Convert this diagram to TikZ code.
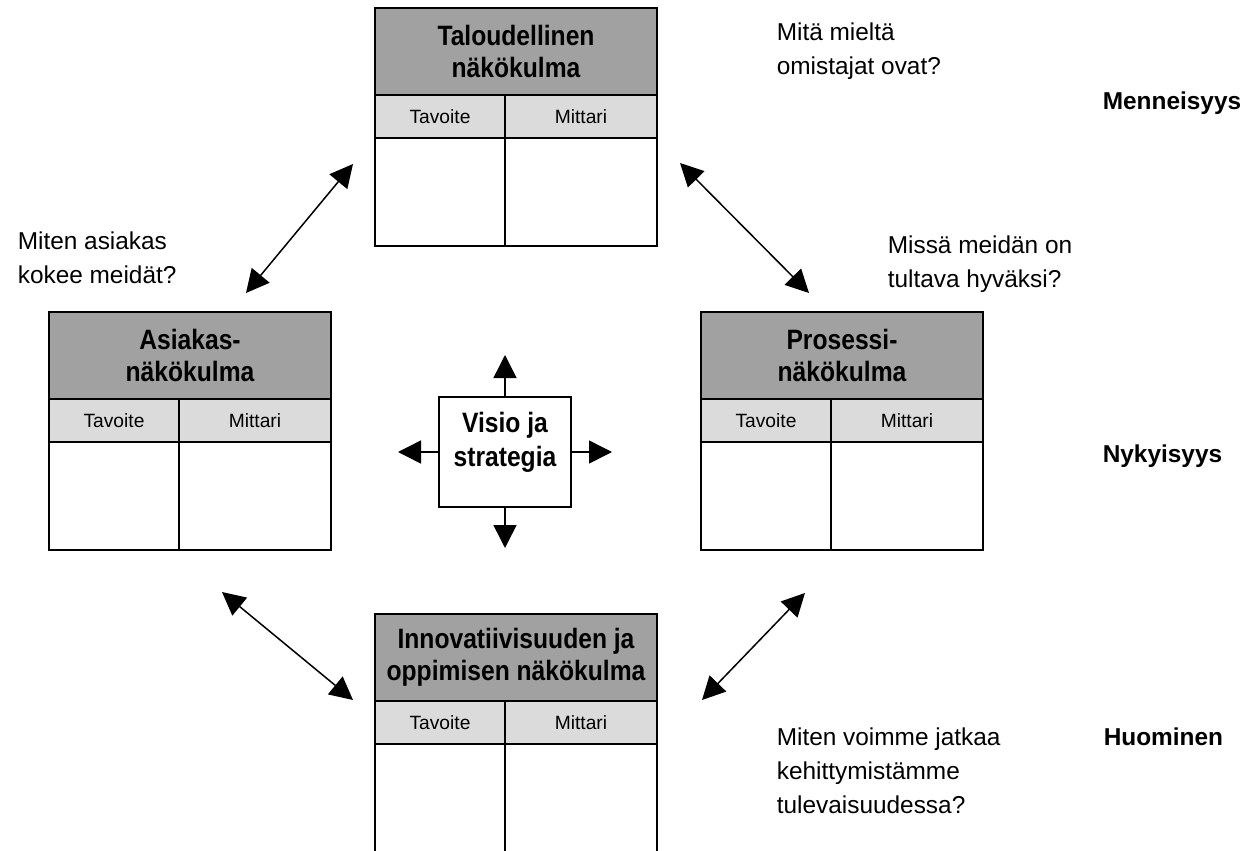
\documentclass[tikz,border=0pt]{standalone}
\usepackage{fontspec}
\setmainfont{Liberation Sans}
\newfontfamily\kapeafont[FakeStretch=0.88]{Liberation Sans}
\usepackage{tikz}
\usetikzlibrary{arrows.meta}
\definecolor{tumma}{gray}{0.63}
\definecolor{vaalea}{gray}{0.86}
\newcommand{\tw}{130}
\newcommand{\mw}{152}
\newcommand{\nakokulma}[4]{  % 1 name, 2-3 x-y top left, 4 title
        \node[otsikko, anchor=north west] (#1) at (#2, #3) {#4};
        \node[solu, fill=vaalea, minimum width=\tw, minimum height=43, anchor=north west] (#1-tav) at (#1.south west) {Tavoite};
        \node[solu, fill=vaalea, minimum width=\mw, minimum height=43, anchor=north west] (#1-mit) at (#1-tav.north east) {Mittari};
        \node[solu, minimum width=\tw, minimum height=108, anchor=north west] (#1-tav-alue) at (#1-tav.south west) {};%empty cells
        \node[solu, minimum width=\mw, minimum height=108, anchor=north west] (#1-mit-alue) at (#1-mit.south west) {};
}
\begin{document}
\begin{tikzpicture}[x=1pt, y=-1pt, line width=1.6pt,
        otsikko/.style={draw, fill=tumma, minimum width=282, minimum height=87, inner sep=0, outer sep=0, align=center, font=\kapeafont\bfseries\fontsize{28}{32}\selectfont},
        solu/.style={draw, inner sep=0, outer sep=0, font=\fontsize{19.2}{22}\selectfont},
        kysymys/.style={anchor=north west, inner sep=0, align=left, font=\fontsize{24.4}{34}\selectfont},
        aika/.style={anchor=base west, inner sep=0, font=\bfseries\fontsize{24.4}{30}\selectfont},
        nuoli/.style={line width=1.5pt, -{Triangle[length=23pt, width=23pt]}},
        tuplanuoli/.style={line width=1.5pt, {Triangle[length=23pt, width=23pt]}-{Triangle[length=23pt, width=23pt]}}]
		\useasboundingbox (0,0) rectangle (1248,851);
		\clip (0,0) rectangle (1248,851);
		\nakokulma{talous}{375}{8}{Taloudellinen\\näkökulma}
		\nakokulma{asiakas}{49}{312}{Asiakas-\\näkökulma}
		\nakokulma{prosessi}{701}{312}{Prosessi-\\näkökulma}
		\nakokulma{oppiminen}{375}{614}{Innovatiivisuuden ja\\oppimisen näkökulma}
		% keskusta
		\node[draw, minimum width=132, minimum height=110, inner sep=0, outer sep=0] (visio) at (505,452) {};
		\node[align=center, inner sep=0, font=\kapeafont\bfseries\fontsize{28}{34}\selectfont] (visio-teksti) at (505,442) {Visio ja\\strategia};
		\coordinate (ylos) at (505,355);
		\coordinate (alas) at (505,548);
		\coordinate (vasen) at (398,452);
		\coordinate (oikea) at (612,452);
		\draw[nuoli] (visio.north) -- (ylos);
		\draw[nuoli] (visio.south) -- (alas);
		\draw[nuoli] (visio.west) -- (vasen);
		\draw[nuoli] (visio.east) -- (oikea);
		% yhteydet
		\coordinate (a1) at (246,293);
		\coordinate (a2) at (353,164);
		\coordinate (b1) at (680,163);
		\coordinate (b2) at (809,293);
		\coordinate (c1) at (222,592);
		\coordinate (c2) at (353,700);
		\coordinate (d1) at (702,700);
		\coordinate (d2) at (805,593);
		\draw[tuplanuoli] (a1) -- (a2);
		\draw[tuplanuoli] (b1) -- (b2);
		\draw[tuplanuoli] (c1) -- (c2);
		\draw[tuplanuoli] (d1) -- (d2);
		% kysymykset
		\node[kysymys] (k-talous) at (776,22) {Mitä mieltä\\omistajat ovat?};
		\node[kysymys] (k-asiakas) at (17,231) {Miten asiakas\\kokee meidät?};
		\node[kysymys] (k-prosessi) at (887,235) {Missä meidän on\\tultava hyväksi?};
		\node[kysymys] (k-oppiminen) at (776,727) {Miten voimme jatkaa\\kehittymistämme\\tulevaisuudessa?};
		\node[aika] (menneisyys) at (1102,110) {Menneisyys};
		\node[aika] (nykyisyys) at (1102,462) {Nykyisyys};
		\node[aika] (huominen) at (1103,745) {Huominen};
\end{tikzpicture}
\end{document}
